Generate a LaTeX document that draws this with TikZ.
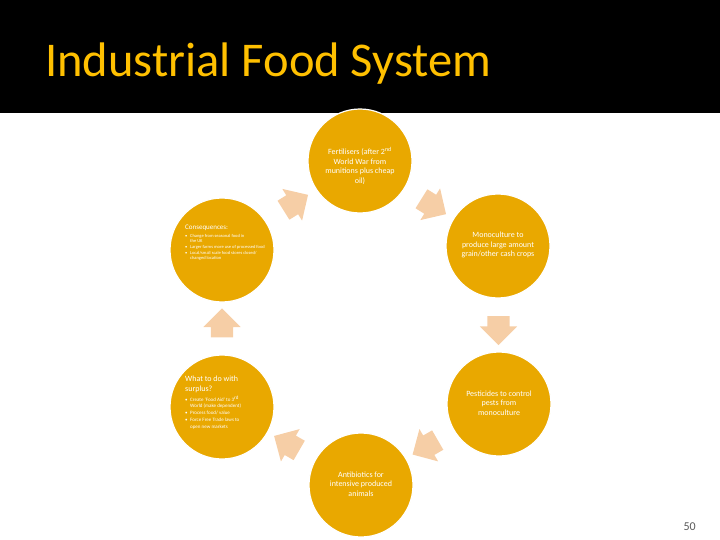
\documentclass[tikz,border=0pt]{standalone}
\usepackage{fontspec}
\setmainfont{Carlito}
\usetikzlibrary{positioning, calc, shapes.arrows}

\definecolor{titlegold}{RGB}{255,192,0}
\definecolor{cyclegold}{RGB}{233,168,0}
\definecolor{peach}{RGB}{246,206,166}
\definecolor{pagegray}{RGB}{89,89,89}

\newcommand{\lbul}{\makebox[5pt][l]{\textbullet}}
\newcommand{\lind}{\hspace*{5pt}}

\begin{document}
\begin{tikzpicture}[x=1pt, y=-1pt,
    stage/.style={circle, fill=cyclegold, draw=white, line width=1.2pt, minimum size=104pt, inner sep=0pt},
    stagetxt/.style={text=white, align=center, inner sep=0pt, font=\fontsize{8}{9.5}\selectfont},
    listtxt/.style={text=white, align=left, inner sep=0pt, anchor=north west},
    cyclearr/.style={single arrow, fill=peach, draw=none, minimum height=29pt, inner xsep=0pt, inner ysep=11pt,
        single arrow head extend=7.5pt},
]
\useasboundingbox (0,0) rectangle (720,540);

% Title band
\fill[black] (0,0) rectangle (720,113);
\node[anchor=base west, text=titlegold, font=\fontsize{48.5}{52}\selectfont, inner sep=0pt] (title) at (45,77) {Industrial Food System};

% Stages of the cycle
\node[stage] (top) at (360,161) {};
\node[stage] (ur) at (498,246) {};
\node[stage] (lr) at (499,404) {};
\node[stage] (bot) at (361,485) {};
\node[stage] (ll) at (222,407) {};
\node[stage] (ul) at (222,250) {};

% Texts of the stages
\node[stagetxt] (topText) at (360,166) {Fertilisers (after 2\textsuperscript{nd}\\World War from\\munitions plus cheap\\oil)};
\node[stagetxt] (urText) at (498,245) {Monoculture to\\produce large amount\\grain/other cash crops};
\node[stagetxt] (lrText) at (499,403) {Pesticides to control\\pests from\\monoculture};
\node[stagetxt] (botText) at (361,484) {Antibiotics for\\intensive produced\\animals};
\node[listtxt, font=\fontsize{4.5}{5.6}\selectfont] (ulText) at (185,225) {{\fontsize{7}{8}\selectfont Consequences:}\\[2pt]
  \lbul Change from seasonal food in\\ \lind the UK\\
  \lbul Larger farms more use of processed food\\
  \lbul Local/small scale food stores closed/\\ \lind changed location};
\node[listtxt, font=\fontsize{5}{6.7}\selectfont] (llText) at (185,376) {{\fontsize{8}{9.8}\selectfont What to do with}\\[3pt]
  {\fontsize{8}{9.8}\selectfont surplus?}\\[2pt]
  \lbul Create `Food Aid' to 3\textsuperscript{rd}\\ \lind World (make dependent)\\
  \lbul Process food/ value\\
  \lbul Force Free Trade laws to\\ \lind open new markets};

% Arrows between stages
\node[cyclearr, rotate=-32] (aTopUr) at ($(top)!0.5!(ur)$) {};
\node[cyclearr, rotate=-90] (aUrLr) at ($(ur)!0.5!(lr)$) {};
\node[cyclearr, rotate=-150] (aLrBot) at ($(lr)!0.5!(bot)$) {};
\node[cyclearr, rotate=150] (aBotLl) at ($(bot)!0.5!(ll)$) {};
\node[cyclearr, rotate=90] (aLlUl) at ($(ll)!0.5!(ul)$) {};
\node[cyclearr, rotate=32] (aUlTop) at ($(ul)!0.5!(top)$) {};

% Page number
\node[anchor=base east, text=pagegray, font=\fontsize{12}{14}\selectfont, inner sep=0pt] (pagenum) at (696,530) {50};
\end{tikzpicture}
\end{document}
